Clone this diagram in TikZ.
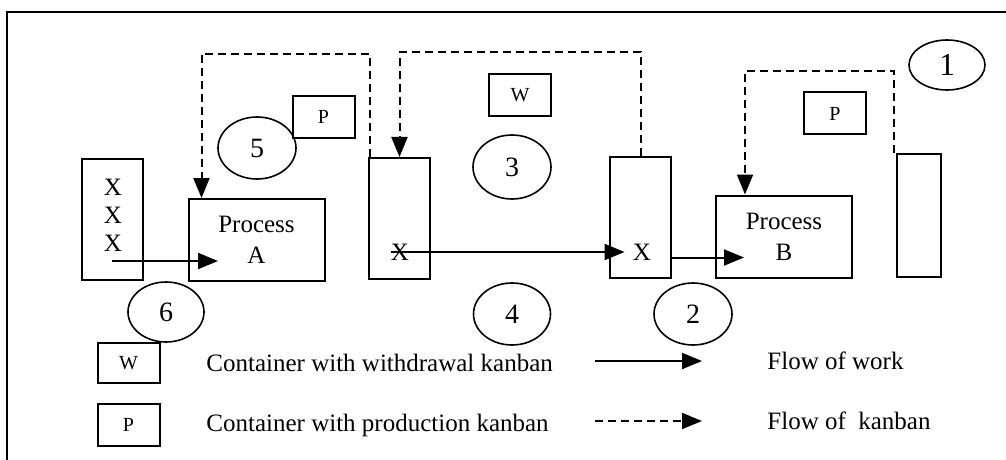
\documentclass[tikz,border=0pt]{standalone}
\usepackage{fontspec}
\setmainfont{Liberation Serif}
\usetikzlibrary{arrows.meta,calc,shapes.geometric}
\tikzset{%
  >={Triangle[width=8pt,length=10pt]},
  % Specifications for style of nodes:
            base/.style = {rectangle, draw=black, line width=1pt, inner sep=0pt,
                           text centered, font=\fontsize{12.5}{15.5}\selectfont},
      process/.style = {base, minimum width=68pt, minimum height=41pt, align=center},
          bin/.style = {base, minimum width=30.5pt, minimum height=60.5pt},
         card/.style = {base, minimum width=31pt, minimum height=21pt,
                        font=\fontsize{10}{12}\selectfont},
        badge/.style = {ellipse, draw=black, line width=0.8pt, inner sep=0pt,
                        minimum width=39pt, minimum height=31pt,
                        font=\fontsize{14}{16}\selectfont},
         item/.style = {inner sep=0pt, font=\fontsize{12.5}{14}\selectfont},
  % connectors
         work/.style = {->, line width=1pt},
       kanban/.style = {->, line width=1pt, dash pattern=on 4pt off 2.5pt},
}

\begin{document}
\begin{tikzpicture}[x=0.5pt, y=-0.5pt]
  \fill[white] (0,0) rectangle (1006,460);
  \useasboundingbox (0,0) rectangle (1006,460);
  \draw[line width=1pt] (7,460) -- (7,12) -- (1006,12);
  % Specification of nodes (position, etc.)
  \node (stock)  [bin] at (112.5,219.5) {};
  \node (stockx) [item, align=center] at (113,215) {X\\X\\X};
  \node (procA)  [process] at (256.5,240) {Process\\A};
  \node (cont1)  [bin] at (399.5,218.5) {};
  \node (xone)   [item] at (400,252) {X};
  \node (cont2)  [bin] at (640.5,217.5) {};
  \node (xtwo)   [item] at (642,252) {X};
  \node (procB)  [process] at (784,236.5) {Process\\B};
  \node (cont3)  [bin, minimum width=22pt, minimum height=61.5pt] at (919,215.5) {};
  \node (wcard)  [card] at (520,95) {W};
  \node (pcardA) [card] at (323.5,117) {P};
  \node (pcardB) [card] at (835,113.5) {P};
  % numbered steps
  \node (one)   [badge, minimum width=38pt, minimum height=25pt,
                 font=\fontsize{16}{18}\selectfont] at (947,65) {1};
  \node (two)   [badge] at (693,314) {2};
  \node (three) [badge, minimum height=32pt] at (512,167) {3};
  \node (four)  [badge, minimum width=38.5pt] at (512,314) {4};
  \node (five)  [badge] at (257,148) {5};
  \node (six)   [badge, minimum width=38pt, minimum height=30pt] at (166,312) {6};
  % legend
  \node (wkey) [card, minimum height=20pt] at (128.5,363) {W};
  \node (pkey) [card] at (128.5,425) {P};
  \node (wtext) [item, anchor=west] at (206,363) {Container with withdrawal kanban};
  \node (ptext) [item, anchor=west] at (206,425) {Container with production kanban};
  \node (worktext)   [item, anchor=west] at (767,361) {Flow of work};
  \node (kanbantext) [item, anchor=west] at (767,421) {Flow of~ kanban};
  \coordinate (wfrom) at (595,361);
  \coordinate (wto)   at (702,361);
  \coordinate (kfrom) at (595,421);
  \coordinate (kto)   at (702,421);
  % flow of work
  \coordinate (sout) at (112,261);
  \coordinate (ain)  at (218,261);
  \coordinate (bout) at ($(cont2.east)+(0,40)$);
\draw[work] (sout) -- (ain);
\draw[work, shorten >=4pt] (xone.west) -- (xone.west -| xtwo.west);
\draw[work] (bout) -- ($(bout -| procB.west)+(29,0)$);
  % flow of kanban
\draw[kanban] ($(cont1.north west)+(2,0)$) -- ++(0,-103) -| ($(procA.north west)+(14,0)$);
\draw[kanban] (cont2.north) -- ++(0,-104) -| (cont1.north);
\draw[kanban] ($(cont3.north west)+(-2,0)$) -- ++(0,-82) -| ($(procB.north west)+(30,0)$);
\draw[work] (wfrom) -- (wto);
\draw[kanban] (kfrom) -- (kto);
\end{tikzpicture}
\end{document}
